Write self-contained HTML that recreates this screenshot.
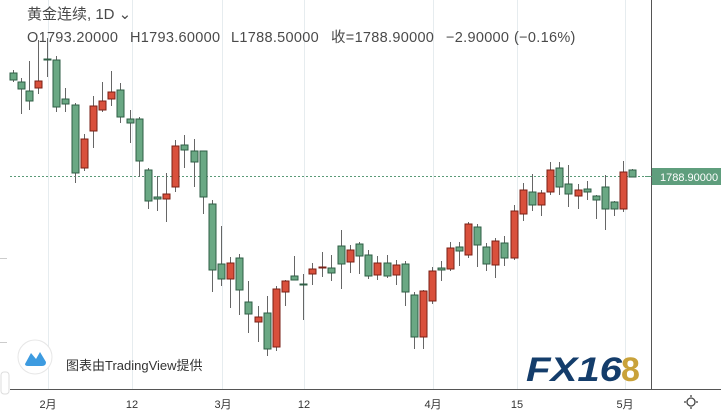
<!DOCTYPE html>
<html><head><meta charset="utf-8"><style>
html,body{margin:0;padding:0;background:#fff;}
body{width:721px;height:410px;overflow:hidden;position:relative;font-family:"Liberation Sans","Noto Sans CJK SC",sans-serif;}
.t{position:absolute;color:#4a4a4a;white-space:nowrap;line-height:18px;}
.h{position:absolute;top:29px;font-size:14.5px;line-height:18px;height:18px;color:#4a4a4a;white-space:nowrap;letter-spacing:0.3px;}
</style></head><body>
<svg width="721" height="410" style="position:absolute;left:0;top:0">
<g stroke="#e6ecef" stroke-width="1">
<line x1="48.5" y1="0" x2="48.5" y2="389"/><line x1="132.5" y1="0" x2="132.5" y2="389"/>
<line x1="222.5" y1="0" x2="222.5" y2="389"/><line x1="304.5" y1="0" x2="304.5" y2="389"/>
<line x1="433.5" y1="0" x2="433.5" y2="389"/><line x1="517.5" y1="0" x2="517.5" y2="389"/>
<line x1="625.5" y1="0" x2="625.5" y2="389"/>
</g>
<g stroke="#ccc"><line x1="0" y1="258.5" x2="7" y2="258.5"/><line x1="0" y1="342.5" x2="7" y2="342.5"/></g>
<line x1="10" y1="176.5" x2="651" y2="176.5" stroke="#5a9a78" stroke-dasharray="2,2"/>
<g id="c"></g>
<line x1="651.5" y1="0" x2="651.5" y2="389" stroke="#555"/>
<line x1="10" y1="389.5" x2="721" y2="389.5" stroke="#555"/>
<rect x="652" y="168" width="69" height="17" fill="#5f9e7d"/>
<line x1="645" y1="176.5" x2="652" y2="176.5" stroke="#5a9a78"/>
<text x="660" y="181" font-size="11" fill="#fff" font-family="Liberation Sans">1788.90000</text>
<g font-size="11" fill="#333" font-family="Liberation Sans,Noto Sans CJK SC,sans-serif" text-anchor="middle">
<text x="48" y="408">2月</text><text x="132" y="408">12</text><text x="223" y="408">3月</text>
<text x="304" y="408">12</text><text x="433" y="408">4月</text><text x="517" y="408">15</text><text x="625" y="408">5月</text>
</g>
<g stroke="#444" stroke-width="1.3" fill="none">
<circle cx="691" cy="402" r="4"/>
<line x1="691" y1="395" x2="691" y2="397"/><line x1="691" y1="407" x2="691" y2="409"/>
<line x1="684" y1="402" x2="686" y2="402"/><line x1="696" y1="402" x2="698" y2="402"/>
</g>
<rect x="1" y="372" width="8" height="22" rx="3" fill="#fff" stroke="#ddd"/>
<circle cx="35" cy="357" r="17" fill="#fff" stroke="#e6e6e6"/>
<path d="M25 364 L31 353 L36 359 L40 352 L46 362 Q46 366 42 366 L28 366 Q25 366 25 364Z" fill="#3d9be0"/>
<text x="526" y="381" font-size="34" font-weight="bold" font-style="italic" fill="#143d6b" font-family="Liberation Sans" textLength="96" lengthAdjust="spacingAndGlyphs">FX16</text>
<text x="621" y="381" font-size="34" font-weight="bold" fill="#c9a23a" font-family="Liberation Sans">8</text>
</svg>
<div class="t" style="left:27px;top:6px;font-size:15px;">黄金连续, 1D ⌄</div>
<div class="h" style="left:27px;">O1793.20000</div>
<div class="h" style="left:130px;">H1793.60000</div>
<div class="h" style="left:231px;">L1788.50000</div>
<div class="h" style="left:331px;">收=1788.90000</div>
<div class="h" style="left:446px;">−2.90000</div>
<div class="h" style="left:514px;">(−0.16%)</div>
<div class="t" style="left:66px;top:357px;font-size:13px;color:#333;">图表由TradingView提供</div>
<script>
var d=[
[13,70,82,73,80,'g'],[21,78,114,82,89,'g'],[29,61,110,91,101,'g'],[38,40,94,81,88,'r'],[47,38,77,59,60,'g'],
[56,56,112,60,107,'g'],[65,88,112,99,104,'g'],[75,103,183,105,173,'g'],[84,134,171,139,168,'r'],[93,96,148,106,131,'r'],
[102,82,112,101,110,'r'],[111,71,106,92,99,'r'],[120,83,123,90,117,'g'],[130,110,143,119,123,'g'],[139,117,177,119,161,'g'],
[148,168,209,170,201,'g'],[157,176,211,197,199,'g'],[166,173,222,194,199,'r'],[175,140,192,146,187,'r'],[184,135,168,145,150,'g'],
[194,139,187,151,162,'g'],[203,151,214,151,197,'g'],[212,200,292,204,270,'g'],[221,226,286,264,279,'g'],[230,257,308,263,279,'r'],
[239,254,315,258,290,'g'],[248,281,333,302,314,'g'],[258,306,342,317,322,'r'],[267,296,356,313,349,'g'],[276,286,351,289,347,'r'],
[285,280,306,281,292,'r'],[294,256,280,276,280,'g'],[303,274,320,284,285,'g'],[312,263,285,269,274,'r'],[322,252,277,267,268,'r'],
[331,255,281,268,273,'g'],[341,230,289,246,264,'g'],[350,245,273,250,262,'r'],[359,242,274,244,256,'g'],[368,250,279,255,276,'g'],
[377,256,280,263,275,'r'],[387,255,278,263,276,'g'],[396,260,285,265,275,'r'],[405,261,306,264,292,'g'],[414,292,349,295,337,'g'],
[423,290,349,291,337,'r'],[432,267,304,271,301,'r'],[441,261,281,268,270,'g'],[450,242,271,248,269,'r'],[459,242,266,247,251,'g'],
[468,222,258,224,255,'r'],[477,224,267,227,245,'g'],[486,243,271,247,264,'g'],[495,238,278,241,265,'r'],[504,236,266,243,258,'g'],
[514,205,260,211,258,'r'],[523,183,221,190,214,'r'],[532,174,211,192,205,'g'],[541,190,216,193,205,'r'],[550,162,195,170,192,'r'],
[559,162,195,168,187,'g'],[568,165,207,184,194,'g'],[578,184,209,190,196,'r'],[587,181,200,189,192,'g'],[596,195,219,196,200,'g'],
[605,175,230,187,209,'g'],[614,201,216,202,209,'g'],[623,161,212,172,209,'r'],[632,169,177,170,177,'g']];
var s='';
d.forEach(function(c){var x=c[0],col=c[5]=='g'?'#6aa884':'#d9503c',bd=c[5]=='g'?'#2e5e44':'#7a1f14';
s+='<line x1="'+(x+.5)+'" y1="'+c[1]+'" x2="'+(x+.5)+'" y2="'+c[2]+'" stroke="#666"/>';
var h=Math.max(c[4]-c[3],1);
s+='<rect x="'+(x-3)+'" y="'+c[3]+'" width="7" height="'+h+'" fill="'+col+'" stroke="'+bd+'" stroke-width="1"/>';});
document.getElementById('c').innerHTML=s;
</script>
</body></html>
